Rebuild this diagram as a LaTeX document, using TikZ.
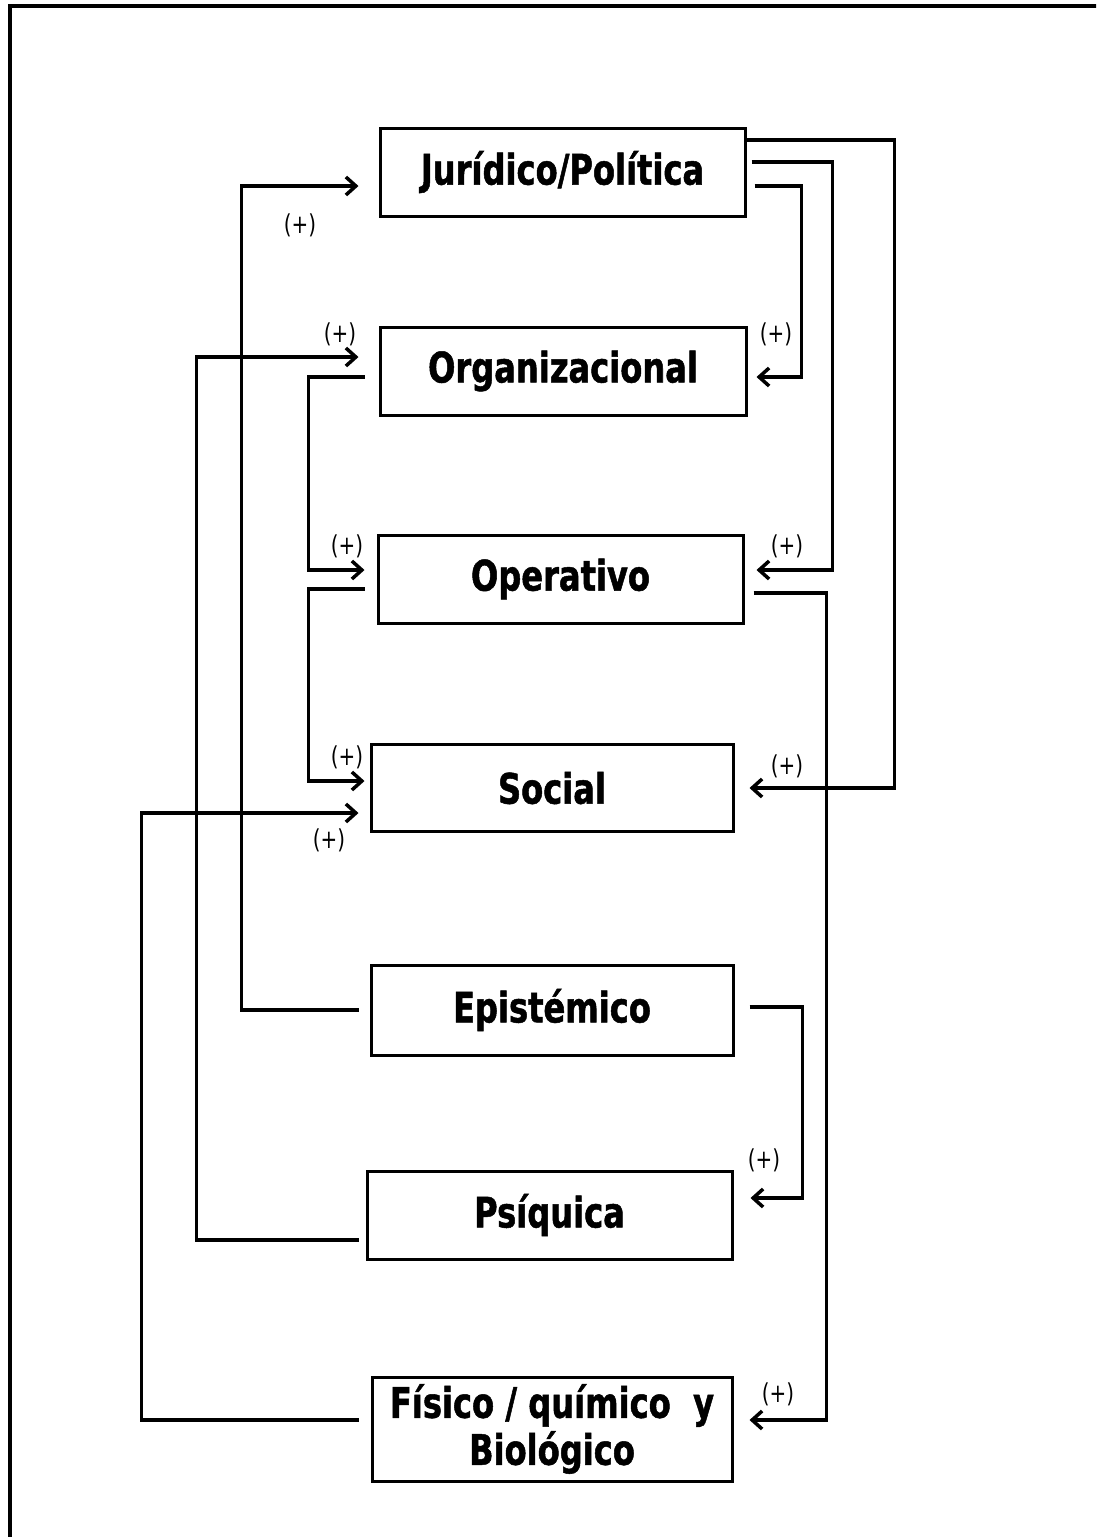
\documentclass[tikz,border=0pt]{standalone}
\usepackage{fontspec}
\setmainfont{DejaVu Sans}[FakeStretch=0.765, BoldFeatures={FakeBold=1.2}]
\usetikzlibrary{arrows.meta}
\tikzset{blackboxnode/.style={rectangle, draw=black, line width=3pt, inner sep=0pt, align=center, font=\bfseries\fontsize{42pt}{47pt}\selectfont},
arrowline/.style={draw=black, line width=3.5pt, -{Straight Barb[length=10pt, width=18pt]}},
plusnode/.style={inner sep=0pt, font=\fontsize{26pt}{30pt}\selectfont}}

\begin{document}
\begin{tikzpicture}[x=1pt, y=-1pt]
        \useasboundingbox (0, 0) rectangle (1096, 1537);
        \clip (0, 0) rectangle (1096, 1537);
        % Frame
        \draw[line width=4pt] (10, 6) rectangle (1120, 1560);
        % Boxes
        \node[blackboxnode, minimum width=365pt, minimum height=88pt] (jur) at (562.5, 172) {Jurídico/Política};
        \node[blackboxnode, minimum width=366pt, minimum height=88pt] (org) at (563, 371) {Organizacional};
        \node[blackboxnode, minimum width=365pt, minimum height=88pt] (ope) at (560.5, 579) {Operativo};
        \node[blackboxnode, minimum width=362pt, minimum height=87pt] (soc) at (552, 788) {Social};
        \node[blackboxnode, minimum width=362pt, minimum height=90pt] (epi) at (552, 1010) {Epistémico};
        \node[blackboxnode, minimum width=365pt, minimum height=88pt] (psi) at (549.5, 1215) {Psíquica};
        \node[blackboxnode, minimum width=360pt, minimum height=104pt] (fis) at (552, 1429) {Físico / químico\ \ y\\Biológico};
        % Left side arrows
        \draw[arrowline] ([shift={(-11, 0)}]epi.west) -- ++(-117, 0) |- ([shift={(-20, 14)}]jur.west);
        \draw[arrowline] ([shift={(-7, 25)}]psi.west) -- ++(-162, 0) |- ([shift={(-20, -14)}]org.west);
        \draw[arrowline] ([shift={(-14, 6)}]org.west) -- ++(-56, 0) |- ([shift={(-12, -9)}]ope.west);
        \draw[arrowline] ([shift={(-12, 10)}]ope.west) -- ++(-56, 0) |- ([shift={(-5, -7)}]soc.west);
        \draw[arrowline] ([shift={(-12, -9)}]fis.west) -- ++(-217, 0) |- ([shift={(-11, 25)}]soc.west);
        % Right side arrows
        \draw[arrowline] ([shift={(8, 14)}]jur.east) -- ++(47, 0) |- ([shift={(9, 6)}]org.east);
        \draw[arrowline] ([shift={(5, -10)}]jur.east) -- ++(81, 0) |- ([shift={(12, -9)}]ope.east);
        \draw[arrowline] ([shift={(0, -32)}]jur.east) -- ++(148, 0) |- ([shift={(15, 0)}]soc.east);
        \draw[arrowline] ([shift={(9, 14)}]ope.east) -- ++(73, 0) |- ([shift={(16, -9)}]fis.east);
        \draw[arrowline] ([shift={(15, -3)}]epi.east) -- ++(53, 0) |- ([shift={(17, -17)}]psi.east);
        % Labels
        \node[plusnode] (plusjur) at (300, 225) {(+)};
        \node[plusnode] (plusorgl) at (340, 334) {(+)};
        \node[plusnode] (plusopel) at (347, 546) {(+)};
        \node[plusnode] (plussocl) at (347, 757) {(+)};
        \node[plusnode] (plussocf) at (329, 840) {(+)};
        \node[plusnode] (plusorgr) at (776, 334) {(+)};
        \node[plusnode] (plusoper) at (787, 546) {(+)};
        \node[plusnode] (plussocr) at (787, 766) {(+)};
        \node[plusnode] (plusfis) at (778, 1394) {(+)};
        \node[plusnode] (pluspsi) at (764, 1160) {(+)};
    \end{tikzpicture}
\end{document}
